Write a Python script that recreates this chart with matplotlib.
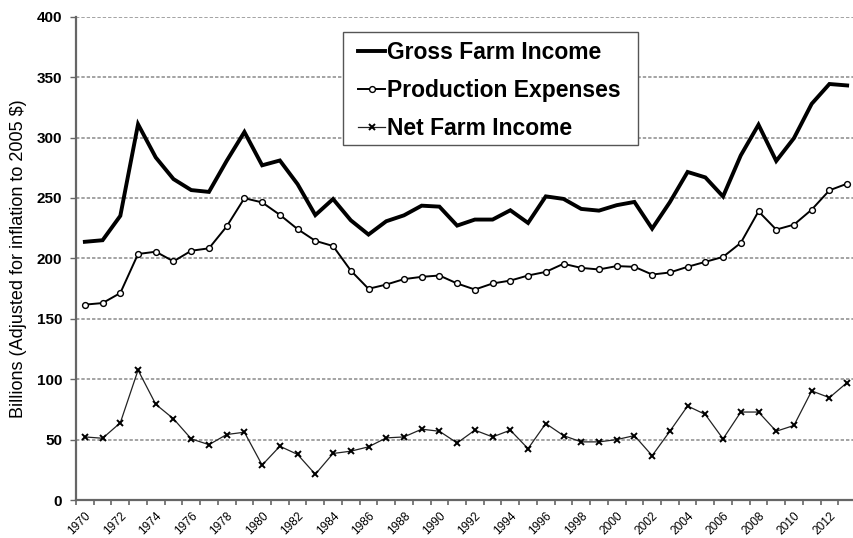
import matplotlib
matplotlib.use("Agg")
import matplotlib.pyplot as plt
from matplotlib.patches import Rectangle
import numpy as np

plt.rcParams['font.family'] = ['Liberation Sans', 'DejaVu Sans']

years = list(range(1970, 2014))
gross_income = [213.7, 215.0, 235.2, 311.0, 283.5, 265.6, 256.5, 255.0, 280.7, 304.6,
                277.0, 281.0, 261.4, 235.8, 249.1, 231.5, 219.7, 230.7, 235.6, 243.6,
                242.8, 227.1, 232.1, 232.1, 239.8, 229.3, 251.3, 249.2, 240.9, 239.5,
                244.0, 246.7, 224.6, 246.5, 271.5, 267.0, 251.2, 285.2, 310.6, 280.6,
                299.5, 327.9, 344.3, 343.1]
production_expenses = [161.7, 163.0, 171.3, 203.6, 205.5, 197.5, 206.3, 208.3, 226.4, 249.8,
                       246.3, 236.0, 224.2, 214.5, 210.2, 189.9, 174.8, 178.3, 182.8, 184.7,
                       185.8, 179.2, 174.2, 179.2, 181.6, 185.8, 188.8, 195.5, 192.1, 190.8,
                       193.6, 193.0, 186.6, 188.3, 193.0, 197.1, 201.2, 212.8, 238.9, 223.8,
                       227.9, 240.3, 256.3, 261.8]
net_income = [52.2, 51.1, 63.9, 107.5, 79.2, 67.2, 50.6, 45.8, 54.2, 56.1,
              28.9, 44.5, 37.7, 21.3, 38.5, 40.4, 44.0, 51.4, 52.2, 58.6,
              56.9, 47.2, 57.8, 52.2, 57.8, 42.5, 63.3, 53.3, 48.1, 48.1,
              50.0, 53.3, 36.7, 56.9, 77.8, 70.8, 50.6, 72.8, 72.8, 56.9,
              61.7, 90.3, 84.7, 97.2]
y_ticks = [0, 50, 100, 150, 200, 250, 300, 350, 400]
series_labels = ["Gross Farm Income", "Production Expenses", "Net Farm Income"]

W, H = 854, 538
fig = plt.figure(figsize=(W / 100, H / 100), dpi=100)
ax = fig.add_axes([76 / W, 1 - 500 / H, 780 / W, (500 - 16.7) / H])

x = np.arange(len(years))
ax.plot(x, gross_income, color='black', lw=2.8, solid_joinstyle='miter',
        label=series_labels[0], zorder=4)
ax.plot(x, production_expenses, color='black', lw=1.4, marker='o', ms=4.2,
        mfc='white', mec='black', mew=1.0, label=series_labels[1], zorder=4)
ax.plot(x, net_income, color='#222222', lw=0.9, marker='x', ms=4.2,
        mec='black', mew=1.4, label=series_labels[2], zorder=4)

ax.set_xlim(-0.5, len(years) - 0.5)
ax.set_ylim(0, 400)
ax.set_yticks(y_ticks)
ax.set_yticklabels([str(v) for v in y_ticks], fontweight='bold', fontsize=11)
ax.grid(axis='y', color='#8a8a8a', linestyle=(0, (2.2, 1.3)), lw=1.1, zorder=1)
ax.set_axisbelow(True)

label_idx = [i for i, y in enumerate(years) if y % 2 == 0]
ax.set_xticks(label_idx)
ax.set_xticklabels([str(years[i]) for i in label_idx], rotation=45, ha='right',
                   va='top', rotation_mode='anchor', fontsize=8.6)
ax.set_xticks(np.arange(-0.5, len(years), 1.0), minor=True)
ax.tick_params(axis='x', which='major', length=0, pad=7)
ax.tick_params(axis='x', which='minor', length=3.5, width=1.2, color='#666666')
ax.tick_params(axis='y', which='major', length=4, width=1.0, color='#666666', pad=6)

for s in ['top', 'right']:
    ax.spines[s].set_visible(False)
for s in ['left', 'bottom']:
    ax.spines[s].set_color('#666666')
    ax.spines[s].set_linewidth(1.6)

ax.set_ylabel("Billions (Adjusted for inflation to 2005 $)", fontsize=13, labelpad=7)

# legend frame (drawn inside the axes so the legend sits above it)
frame = Rectangle((343 / W, 1 - 145 / H), (638 - 343) / W, (145 - 32) / H,
                  transform=fig.transFigure, facecolor='white',
                  edgecolor='#555555', lw=1.0, zorder=9, clip_on=False)
ax.add_patch(frame)
leg = ax.legend(loc='center left', bbox_to_anchor=(358 / W, 1 - 90.5 / H),
                bbox_transform=fig.transFigure, borderaxespad=0, borderpad=0,
                prop={'weight': 'bold', 'size': 16.5}, handlelength=1.18,
                handletextpad=0.1, labelspacing=0.64, frameon=False)
leg.set_zorder(10)

fig.savefig('out.png', dpi=100)
